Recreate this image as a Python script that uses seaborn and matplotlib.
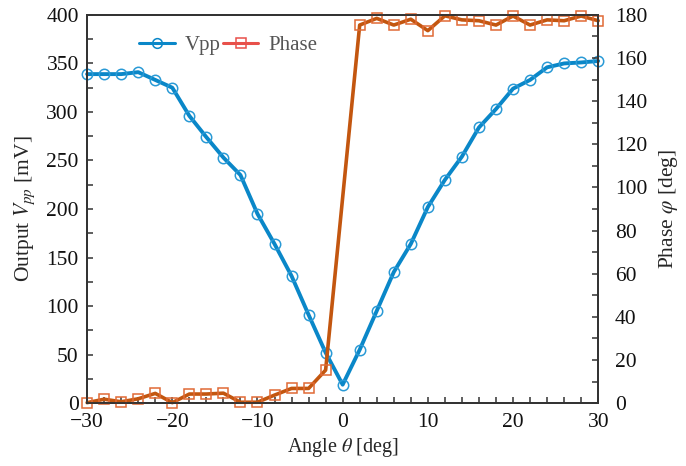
import matplotlib

matplotlib.use("Agg")
import matplotlib.pyplot as plt
from matplotlib.lines import Line2D
from matplotlib.ticker import MultipleLocator
import pandas as pd
import seaborn as sns

BLUE = "#0a87c8"
BLUE_EDGE = "#2a9ad6"
ORANGE = "#c3560f"
ORANGE_EDGE = "#e06a35"
LEGEND_RED = "#e8504a"
DARK = "#333333"

# angle sweep in degrees
angle = list(range(-30, 31, 2))
vpp = [339, 339, 339, 341, 333, 325, 296, 274, 253, 235, 195, 164, 131, 91, 52, 19,
       55, 95, 135, 164, 202, 230, 254, 284, 303, 324, 333, 346, 350, 351, 352.5]

# phase has no sample at 0 deg
phase_angle = [a for a in angle if a != 0]
phase = [0.2, 1.8, 0.6, 2.0, 4.5, 0.2, 4.2, 4.2, 4.6, 0.4, 0.4, 3.7, 6.8, 6.8, 15.3,
         175.3, 178.4, 175.3, 178.0, 172.7, 179.6, 177.7, 177.3, 175.3, 179.5, 175.3,
         177.7, 177.3, 179.5, 177.3]

sns.set_style("ticks")
plt.rcParams.update(
    {
        "font.family": ["Liberation Serif", "DejaVu Serif"],
        "mathtext.fontset": "stix",
        "axes.edgecolor": DARK,
        "axes.linewidth": 1.3,
        "xtick.color": DARK,
        "ytick.color": DARK,
        "xtick.labelcolor": "#111111",
        "ytick.labelcolor": "#111111",
    }
)

vpp_df = pd.DataFrame({"angle": angle, "vpp": vpp})
phase_df = pd.DataFrame({"angle": phase_angle, "phase": phase})

fig = plt.figure(figsize=(6.86, 4.66), dpi=100)
ax = fig.add_axes([0.127, 0.135, 0.745, 0.833])
ax2 = ax.twinx()

sns.lineplot(data=vpp_df, x="angle", y="vpp", ax=ax, color=BLUE, lw=2.8,
             marker="o", markersize=7.5, markerfacecolor="none",
             markeredgecolor=BLUE_EDGE, markeredgewidth=1.1, clip_on=False)
sns.lineplot(data=phase_df, x="angle", y="phase", ax=ax2, color=ORANGE, lw=2.6,
             marker="s", markersize=7.5, markerfacecolor="none",
             markeredgecolor=ORANGE_EDGE, markeredgewidth=1.1, clip_on=False)

ax.set_xlim(-30, 30)
ax.set_ylim(0, 400)
ax2.set_ylim(0, 180)

ax.xaxis.set_major_locator(MultipleLocator(10))
ax.xaxis.set_minor_locator(MultipleLocator(2))
ax.yaxis.set_major_locator(MultipleLocator(50))
ax.yaxis.set_minor_locator(MultipleLocator(25))
ax2.yaxis.set_major_locator(MultipleLocator(20))
ax2.yaxis.set_minor_locator(MultipleLocator(10))

ax.tick_params(axis="x", which="both", direction="in", length=4, width=1.1,
               labelsize=15.5, pad=7, top=False)
ax.tick_params(axis="y", which="both", direction="in", length=4, width=1.1,
               labelsize=15.5, pad=6, right=False)
ax2.tick_params(axis="y", which="both", direction="in", length=4, width=1.1,
                labelsize=15.5, pad=12)

ax.set_xlabel(r"Angle $\theta$ [deg]", fontsize=14.5, labelpad=3)
ax.set_ylabel(r"Output $V_{pp}$ [mV]", fontsize=15.5, labelpad=7)
ax2.set_ylabel(r"Phase $\varphi$ [deg]", fontsize=15.5, labelpad=7)

for spine in ax2.spines.values():
    spine.set_color(DARK)
    spine.set_linewidth(1.3)

handles = [
    Line2D([], [], color=BLUE, lw=2.2, marker="o", markersize=7, markerfacecolor="none",
           markeredgecolor=BLUE, markeredgewidth=1.1),
    Line2D([], [], color=LEGEND_RED, lw=2.2, marker="s", markersize=7, markerfacecolor="none",
           markeredgecolor=LEGEND_RED, markeredgewidth=1.1),
]
ax2.legend(handles, ["Vpp", "Phase"], loc="center left", bbox_to_anchor=(0.065, 0.922),
           ncol=2, frameon=False, fontsize=15, handlelength=1.7, handletextpad=0.5,
           columnspacing=0.1, labelcolor="#555555")

fig.savefig("out.png", dpi=100)
